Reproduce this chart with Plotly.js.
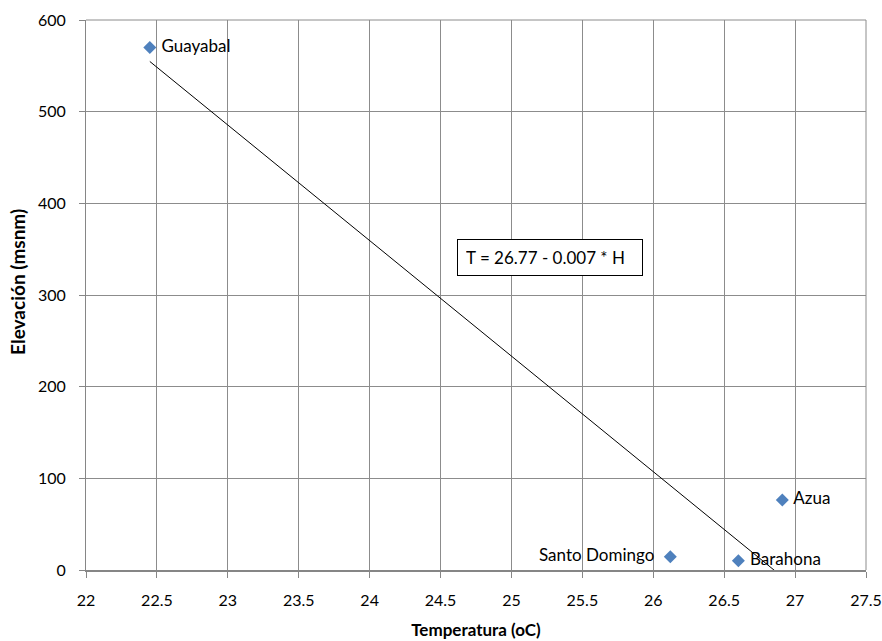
<!DOCTYPE html>
<html><head><meta charset="utf-8">
<script src="https://cdn.plot.ly/plotly-3.0.1.min.js"></script>
<style>html,body{margin:0;padding:0;background:#fff}#chart{width:882px;height:641px}</style>
</head><body><div id="chart"></div>
<script>
const stations = ["Guayabal", "Santo Domingo", "Barahona", "Azua"];
const temperature = [22.45, 26.12, 26.60, 26.91];
const elevation = [570, 14.5, 10.2, 76.4];
const labelPositions = ["middle right", "middle left", "middle right", "middle right"];
const xTicks = [22, 22.5, 23, 23.5, 24, 24.5, 25, 25.5, 26, 26.5, 27, 27.5];
const yTicks = [0, 100, 200, 300, 400, 500, 600];
const equationText = "T = 26.77 - 0.007 * H";

// least-squares trend line (elevation on temperature), as in the spreadsheet trendline
const n = temperature.length;
const mx = temperature.reduce((a, b) => a + b, 0) / n;
const my = elevation.reduce((a, b) => a + b, 0) / n;
let sxy = 0, sxx = 0;
for (let i = 0; i < n; i++) { sxy += (temperature[i] - mx) * (elevation[i] - my); sxx += (temperature[i] - mx) ** 2; }
const slope = sxy / sxx, intercept = my - slope * mx;
const xmin = Math.min(...temperature), xmax = Math.max(...temperature);
const trendX = [xmin, xmax];
const trendY = trendX.map(x => intercept + slope * x);

const pad = "\u00a0";
const labelText = stations.map((s, i) => labelPositions[i] === "middle left" ? s + pad + pad : pad + s);

const font = "Lato, 'Open Sans', sans-serif";
const grid = "#8c8c8c";

const data = [
  { x: trendX, y: trendY, mode: "lines", line: { color: "#000", width: 1 }, hoverinfo: "skip" },
  { x: temperature, y: elevation, mode: "markers+text", text: labelText, textposition: labelPositions,
    textfont: { family: font, size: 17, color: "#000" },
    marker: { symbol: "diamond", size: 10, color: "#4F81BD" }, cliponaxis: false }
];

const layout = {
  width: 882, height: 641,
  margin: { l: 86, r: 16, t: 20, b: 71 },
  paper_bgcolor: "#fff", plot_bgcolor: "#fff",
  showlegend: false,
  font: { family: font, size: 16, color: "#000" },
  xaxis: {
    range: [22, 27.5], tickvals: xTicks, ticktext: xTicks.map(String),
    showgrid: true, gridcolor: grid, gridwidth: 1,
    zeroline: false, showline: true, linecolor: "#868686", linewidth: 2,
    ticks: "outside", ticklen: 6, tickcolor: "#868686", ticklabelstandoff: 9,
    tickfont: { family: font, size: 16 },
    title: { text: "<b>Temperatura (oC)</b>", font: { family: font, size: 17 }, standoff: 16 }
  },
  yaxis: {
    range: [0, 600], tickvals: yTicks, ticktext: yTicks.map(String),
    showgrid: true, gridcolor: grid, gridwidth: 1,
    zeroline: false, showline: true, linecolor: "#868686", linewidth: 1,
    ticks: "outside", ticklen: 6, tickcolor: "#868686", ticklabelstandoff: 10,
    tickfont: { family: font, size: 16 }
  },
  shapes: [
    { type: "line", xref: "paper", yref: "paper", x0: 1, x1: 1, y0: 0, y1: 1, line: { color: grid, width: 1 } },
    { type: "line", xref: "paper", yref: "paper", x0: 0, x1: 1, y0: 1, y1: 1, line: { color: grid, width: 1 } }
  ],
  annotations: [
    { x: 25.27, y: 341, xref: "x", yref: "y", text: equationText, showarrow: false,
      font: { family: font, size: 17, color: "#000" },
      bgcolor: "#fff", bordercolor: "#000", borderwidth: 1, borderpad: 8, width: 168, height: 19, align: "left" },
    { x: -0.087, y: 0.524, xref: "paper", yref: "paper", xanchor: "center", yanchor: "middle",
      text: "<b>Elevación (msnm)</b>", textangle: -90, showarrow: false,
      font: { family: font, size: 19, color: "#000" } }
  ]
};

Plotly.newPlot("chart", data, layout, { staticPlot: true, displayModeBar: false });
</script>
</body></html>
